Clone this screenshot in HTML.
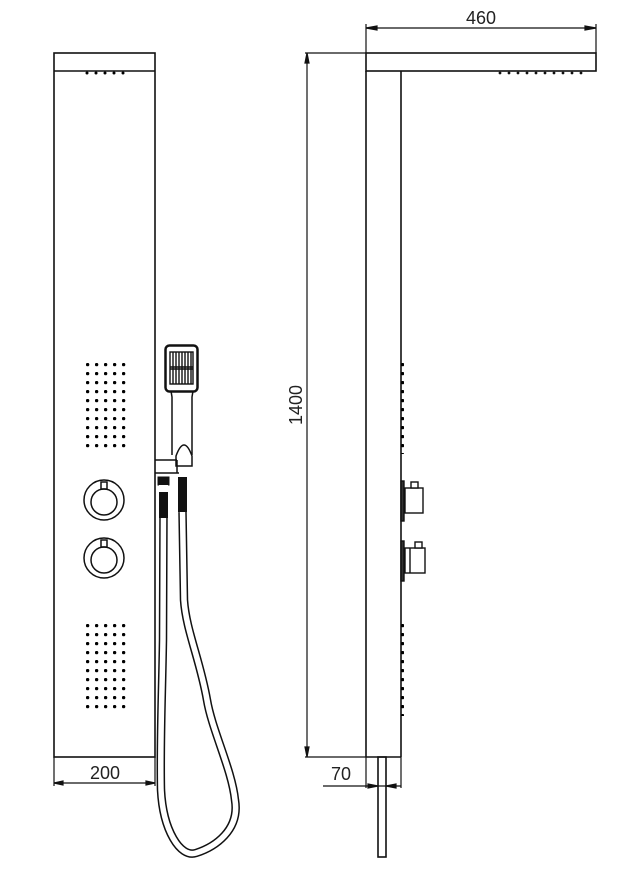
<!DOCTYPE html>
<html><head><meta charset="utf-8"><style>
html,body{margin:0;padding:0;background:#fff;}
svg{display:block;}
text{font-family:"Liberation Sans",sans-serif;fill:#222;}
</style></head><body>
<svg width="619" height="870" viewBox="0 0 619 870" xmlns="http://www.w3.org/2000/svg">
<defs>
<pattern id="dots" x="86" y="363" width="9" height="9" patternUnits="userSpaceOnUse"><circle cx="1.6" cy="1.6" r="1.7" fill="#000"/></pattern>
</defs>
<g fill="none" stroke="#111" stroke-width="1.6">
<rect x="54" y="53" width="101" height="704"/>
<line x1="54" y1="71" x2="155" y2="71"/>
</g>
<g fill="#000">
<circle cx="87" cy="73" r="1.5"/><circle cx="96" cy="73" r="1.5"/><circle cx="105" cy="73" r="1.5"/><circle cx="114" cy="73" r="1.5"/><circle cx="123" cy="73" r="1.5"/>
</g>
<rect x="85" y="362" width="45" height="90" fill="url(#dots)"/>
<rect x="85" y="624" width="45" height="90" fill="url(#dots)"/>
<g fill="none" stroke="#111" stroke-width="1.5">
<circle cx="104" cy="500" r="20"/><circle cx="104" cy="502" r="13"/>
<rect x="101" y="482" width="6" height="7"/>
<circle cx="104" cy="558" r="20"/><circle cx="104" cy="560" r="13"/>
<rect x="101" y="540" width="6" height="7"/>
</g>
<g stroke="#111" stroke-width="1.2" fill="#111">
<line x1="54" y1="757" x2="54" y2="786"/><line x1="155" y1="757" x2="155" y2="786"/>
<line x1="54" y1="783" x2="155" y2="783"/>
<path d="M54 783 l9 -2 v4z"/><path d="M155 783 l-9 -2 v4z"/>
</g>
<text x="105" y="779" font-size="18" text-anchor="middle">200</text>
<!-- hand shower -->
<g fill="none" stroke="#111" stroke-width="1.5">
<rect x="165.5" y="345.5" width="32" height="46" rx="4" stroke-width="2.5"/>
<path d="M171 391 l1 6 v58 M193 391 l-1 6 v58"/>
<path d="M176 456 q8 -22 16 0 v10 h-16z"/>
<path d="M155 460 h22 M155 473 h24 M177 460 v13"/>
</g>
<g stroke="#111" stroke-width="1.4">
<rect x="170" y="352" width="23" height="32" fill="#fff"/>
<path d="M173 352v32M176 352v32M179 352v32M182 352v32M185 352v32M188 352v32M191 352v32M170 367h23M170 369h23"/>
</g>
<!-- hose -->
<path d="M163.5 512 L163 640 C162 700 160 740 161 790 C163 830 180 858 196 853 C215 847 240 830 235 800 C232 770 212 730 207 700 C200 660 186 630 184 600 L182.5 512" fill="none" stroke="#111" stroke-width="8.5"/>
<path d="M163.5 512 L163 640 C162 700 160 740 161 790 C163 830 180 858 196 853 C215 847 240 830 235 800 C232 770 212 730 207 700 C200 660 186 630 184 600 L182.5 512" fill="none" stroke="#fff" stroke-width="5.5"/>
<g fill="#111">
<rect x="158" y="477" width="11" height="8" stroke="#111"/>
<rect x="159" y="485" width="9" height="3" fill="#fff"/>
<rect x="159" y="492" width="9" height="26"/>
<rect x="178" y="477" width="9" height="35"/>
</g>
<!-- right view -->
<g fill="none" stroke="#111" stroke-width="1.6">
<rect x="366" y="53" width="230" height="18"/>
<line x1="366" y1="71" x2="366" y2="757"/>
<line x1="401" y1="71" x2="401" y2="757"/>
<line x1="366" y1="757" x2="401" y2="757"/>
<rect x="378" y="757" width="8" height="100"/>
</g>
<g fill="#111">
<circle cx="500" cy="73" r="1.4"/><circle cx="509" cy="73" r="1.4"/><circle cx="518" cy="73" r="1.4"/><circle cx="527" cy="73" r="1.4"/><circle cx="536" cy="73" r="1.4"/><circle cx="545" cy="73" r="1.4"/><circle cx="554" cy="73" r="1.4"/><circle cx="563" cy="73" r="1.4"/><circle cx="572" cy="73" r="1.4"/><circle cx="581" cy="73" r="1.4"/>
</g>
<rect x="401" y="362" width="3" height="92" fill="url(#dots)"/>
<rect x="401" y="624" width="3" height="92" fill="url(#dots)"/>
<g fill="#fff" stroke="#111" stroke-width="1.4">
<rect x="401" y="481" width="3" height="40" fill="#333"/>
<rect x="405" y="488" width="18" height="25"/>
<rect x="411" y="482" width="7" height="6"/>
<rect x="401" y="541" width="3" height="40" fill="#333"/>
<rect x="405" y="548" width="20" height="25"/>
<line x1="410" y1="548" x2="410" y2="573"/>
<rect x="415" y="542" width="7" height="6"/>
</g>
<g stroke="#111" stroke-width="1.2" fill="#111">
<line x1="366" y1="24" x2="366" y2="53"/><line x1="596" y1="24" x2="596" y2="53"/>
<line x1="366" y1="28" x2="596" y2="28"/>
<path d="M366 28 l11 -2 v4z"/><path d="M596 28 l-11 -2 v4z"/>
</g>
<text x="481" y="24" font-size="18" text-anchor="middle">460</text>
<g stroke="#111" stroke-width="1.2" fill="#111">
<line x1="305" y1="53" x2="366" y2="53"/>
<line x1="305" y1="757" x2="366" y2="757"/>
<line x1="307" y1="53" x2="307" y2="757"/>
<path d="M307 53 l-2 10 h4z"/><path d="M307 757 l-2 -10 h4z"/>
</g>
<text x="0" y="0" font-size="18" text-anchor="middle" transform="translate(302,405) rotate(-90)">1400</text>
<g stroke="#111" stroke-width="1.2" fill="#111">
<line x1="366" y1="757" x2="366" y2="788"/><line x1="401" y1="757" x2="401" y2="788"/>
<line x1="323" y1="786" x2="401" y2="786"/>
<path d="M378 786 l-10 -2 v4z"/><path d="M386 786 l10 -2 v4z"/>
</g>
<text x="341" y="780" font-size="18" text-anchor="middle">70</text>
</svg>
</body></html>
